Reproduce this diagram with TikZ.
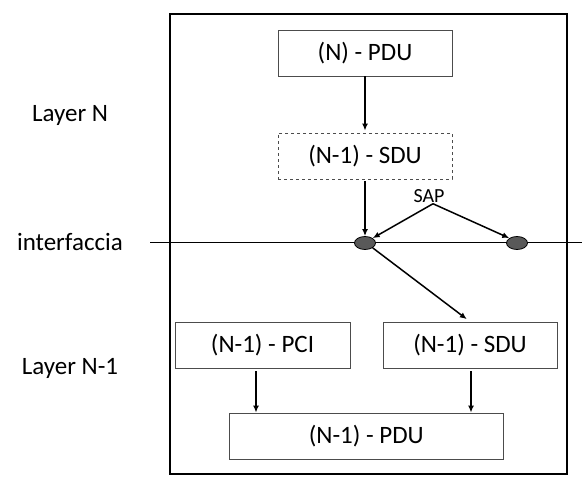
\documentclass[tikz,border=0pt]{standalone}
\usepackage{fontspec}
\setmainfont{Carlito}
\usetikzlibrary{arrows.meta,shapes.geometric}
\tikzset{
  unit/.style={draw=black!70, line width=0.8pt, minimum height=46pt, font=\fontsize{25}{29}\selectfont},
  dashunit/.style={unit, dashed},
  sap/.style={ellipse, draw=black, line width=0.8pt, fill=black!65, minimum width=21pt, minimum height=13pt, inner sep=0pt},
  flow/.style={-{Latex[length=7pt,width=6pt]}, line width=1.5pt},
  side/.style={font=\fontsize{25}{29}\selectfont}
}
\begin{document}
\begin{tikzpicture}[x=1pt,y=-1pt]
\useasboundingbox (0,0) rectangle (587,487);
% outer frame
\draw[line width=1.8pt] (170,14) rectangle (567,474);
% layer labels
\node[side] (ln) at (70,115) {Layer N};
\node[side] (itf) at (70,242) {interfaccia};
\node[side] (ln1) at (70,368) {Layer N-1};
% interface line
\coordinate (ifl) at (150,242);
\coordinate (ifr) at (582,242);
\draw[line width=0.8pt] (ifl) -- (ifr);
% layer N
\node[unit, minimum width=174pt] (npdu) at (365,53) {(N) - PDU};
\node[dashunit, minimum width=174pt] (nsdu) at (365,156) {(N-1) - SDU};
% access points
\node[sap] (sapa) at (365,243) {};
\node[sap] (sapb) at (517,243) {};
\node[font=\fontsize{20}{24}\selectfont, inner sep=1pt] (saplbl) at (429,196) {SAP};
% layer N-1
\node[unit, minimum width=175pt] (pci) at (262.5,345) {(N-1) - PCI};
\node[unit, minimum width=174pt] (lsdu) at (470,345) {(N-1) - SDU};
\node[unit, minimum width=274pt] (lpdu) at (366.3,436) {(N-1) - PDU};
% arrows
\coordinate (sapo) at ([xshift=4pt]saplbl.south);
\coordinate (pcio) at ([xshift=-6.5pt]pci.south);
\coordinate (pcii) at (pcio |- lpdu.north);
\coordinate (sduo) at ([xshift=1pt]lsdu.south);
\coordinate (sdui) at (sduo |- lpdu.north);
\draw[flow, shorten >=2pt] (npdu.south) -- (nsdu.north);
\draw[flow, shorten <=2pt] (nsdu.south) -- (sapa.north);
\draw[flow] (sapo) -- (sapa.north east);
\draw[flow] (sapo) -- (sapb.north west);
\draw[flow, shorten >=4pt] (sapa.south east) -- (lsdu.north);
\draw[flow, shorten <=3pt] (pcio) -- (pcii);
\draw[flow, shorten <=3pt] (sduo) -- (sdui);
\end{tikzpicture}
\end{document}
